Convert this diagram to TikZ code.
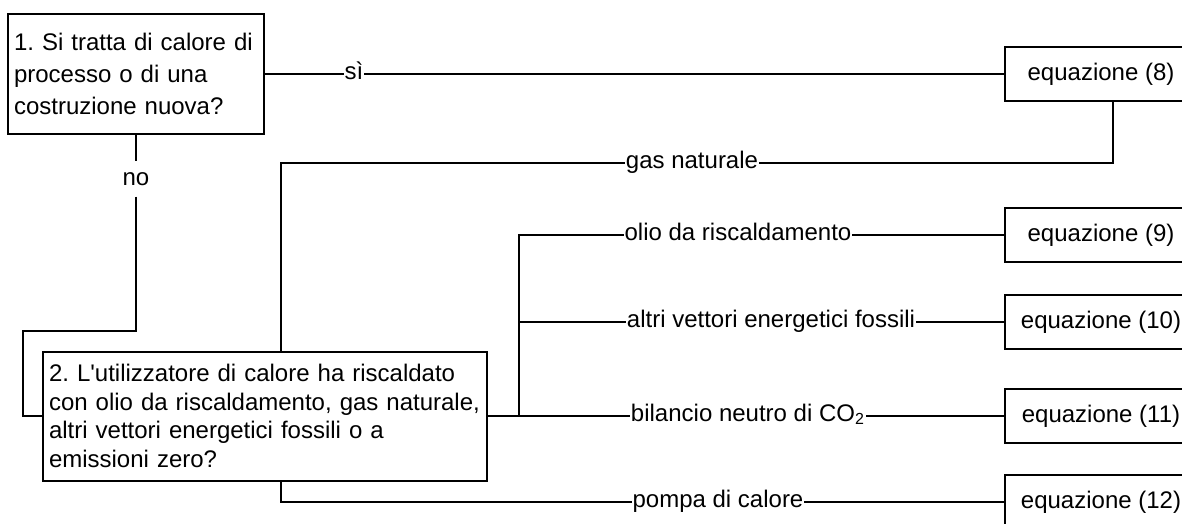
\documentclass[tikz,border=0pt]{standalone}
\usepackage{fontspec}
\setmainfont{Liberation Sans}
\frenchspacing
\begin{document}
\begin{tikzpicture}[x=0.5pt,y=-0.5pt, line width=1pt, font=\fontsize{12}{14.5}\selectfont]
	\tikzset{qbox/.style={draw, align=left, inner xsep=3pt, inner ysep=0pt},
		eqbox/.style={draw, minimum width=96pt, minimum height=27pt, inner sep=0pt},
		lbl/.style={inner sep=0pt, fill=white, anchor=mid}}
	\useasboundingbox (0,0) rectangle (1182,524);
	\clip (0,0) rectangle (1182,524);
	% questions
	\node[qbox, text width=122pt, minimum height=60pt, font=\fontsize{12}{16}\selectfont] (q1) at (136,74)
		{1. Si tratta di calore di\\processo o di una\\costruzione nuova?};
	\node[qbox, text width=216pt, minimum height=64.5pt, font=\fontsize{12}{14.4}\selectfont] (q2) at (265,416)
		{2. L\textquotesingle utilizzatore di calore ha riscaldato\\con olio da riscaldamento, gas naturale,\\altri vettori energetici fossili o a\\emissioni zero?};
	% equations
	\node[eqbox] (eq8) at (1101,74) {equazione (8)};
	\node[eqbox] (eq9) at (1101,235) {equazione (9)};
	\node[eqbox] (eq10) at (1101,322) {equazione (10)};
	\node[eqbox] (eq11) at (1101,416) {equazione (11)};
	\node[eqbox] (eq12) at (1101,502) {equazione (12)};
	% labels
	\node[lbl] (si) at (354,74) {sì};
	\node[inner sep=5pt] (no) at (136,179) {no};
	\node[lbl] (gas) at (692,163) {gas naturale};
	\node[lbl] (olio) at (738,235) {olio da riscaldamento};
	\node[lbl] (altri) at (771,322) {altri vettori energetici fossili};
	\node[lbl] (bil) at (748,416) {bilancio neutro di CO\textsubscript{2}};
	\node[lbl] (pompa) at (718,502) {pompa di calore};
	\coordinate (nobend) at (23,331);
	\coordinate (fork) at (519,416);
	% connectors
	\draw (q1.east |- si.mid) -- (si.mid west);
	\draw (si.mid east) -- (eq8.west |- si.mid);
	\draw (q1.south) -- (no.north);
	\draw (no.south) |- (nobend) |- (q2.west);
	\draw ([xshift=8pt]q2.north) |- (gas.mid west);
	\draw (gas.mid east) -| ([xshift=6pt]eq8.south);
	\draw (fork) |- (olio.mid west);
	\draw (fork |- altri.mid) -- (altri.mid west);
	\draw (q2.east) -- (bil.mid west);
	\draw (olio.mid east) -- (eq9.west |- olio.mid);
	\draw (altri.mid east) -- (eq10.west |- altri.mid);
	\draw (bil.mid east) -- (eq11.west |- bil.mid);
	\draw ([xshift=8pt]q2.south) |- (pompa.mid west);
	\draw (pompa.mid east) -- (eq12.west |- pompa.mid);
\end{tikzpicture}
\end{document}
